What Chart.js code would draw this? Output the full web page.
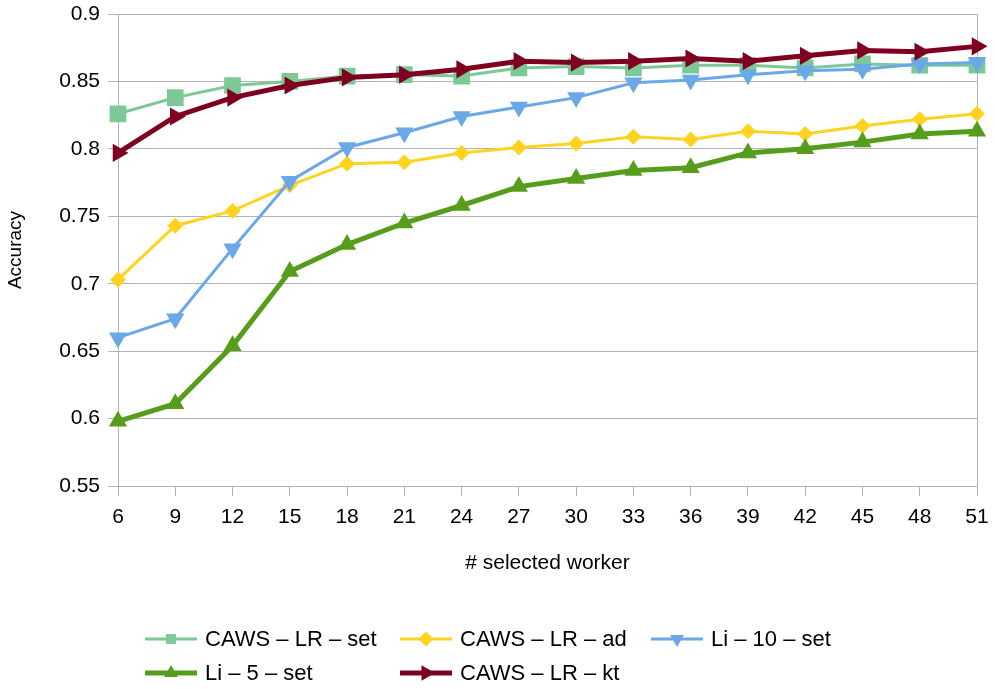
<!DOCTYPE html>
<html lang="en">
<head>
<meta charset="UTF-8">
<title>Accuracy vs selected worker</title>
<style>
  body { margin: 0; background: #fff; }
  canvas { display: block; }
</style>
</head>
<body>
<canvas id="myChart" width="995" height="689"></canvas>
<script src="https://cdn.jsdelivr.net/npm/chart.js@4"></script>
<script>
// data
const workers = [6, 9, 12, 15, 18, 21, 24, 27, 30, 33, 36, 39, 42, 45, 48, 51];
const yTicks = [0.55, 0.6, 0.65, 0.7, 0.75, 0.8, 0.85, 0.9];

const cawsLrSet = [0.826, 0.838, 0.847, 0.850, 0.854, 0.855, 0.854, 0.860, 0.861, 0.860, 0.862, 0.862, 0.860, 0.863, 0.862, 0.862];
const cawsLrAd  = [0.703, 0.743, 0.754, 0.773, 0.789, 0.790, 0.797, 0.801, 0.804, 0.809, 0.807, 0.813, 0.811, 0.817, 0.822, 0.826];
const li10Set   = [0.660, 0.674, 0.726, 0.776, 0.801, 0.812, 0.824, 0.831, 0.838, 0.849, 0.851, 0.855, 0.858, 0.859, 0.863, 0.864];
const li5Set    = [0.598, 0.611, 0.654, 0.709, 0.729, 0.745, 0.758, 0.772, 0.778, 0.784, 0.786, 0.797, 0.800, 0.805, 0.811, 0.813];
const cawsLrKt  = [0.797, 0.824, 0.838, 0.847, 0.853, 0.855, 0.859, 0.865, 0.864, 0.865, 0.867, 0.865, 0.869, 0.873, 0.872, 0.876];

const FONT = 'Liberation Sans, Arial, sans-serif';
const GRID = '#b3b3b3';

function series(label, data, color, width, style, radius, rotation, legendRadius, order) {
    return {
        label: label,
        data: data,
        borderColor: color,
        backgroundColor: color,
        borderWidth: width,
        pointStyle: style,
        pointRadius: radius,
        pointHoverRadius: radius,
        pointRotation: rotation,
        pointBorderWidth: 0,
        tension: 0,
        fill: false,
        order: order,
        legendRadius: legendRadius
    };
}

// legend laid out in a grid like the original (3 columns, 2 rows)
const gridLegend = {
    id: 'gridLegend',
    afterDraw(chart) {
        const ctx = chart.ctx;
        const cols = [145, 400, 651];
        const rows = [639, 673];
        ctx.save();
        chart.data.datasets.forEach((ds, i) => {
            const x = cols[i % 3];
            const y = rows[Math.floor(i / 3)];
            ctx.strokeStyle = ds.borderColor;
            ctx.lineWidth = ds.borderWidth;
            ctx.beginPath();
            ctx.moveTo(x, y);
            ctx.lineTo(x + 52, y);
            ctx.stroke();
            ctx.fillStyle = ds.backgroundColor;
            Chart.helpers.drawPoint(ctx, {
                pointStyle: ds.pointStyle,
                radius: ds.legendRadius,
                rotation: ds.pointRotation,
                borderWidth: 0
            }, x + 26, y);
            ctx.fillStyle = '#000';
            ctx.font = '22px ' + FONT;
            ctx.textBaseline = 'middle';
            ctx.textAlign = 'left';
            ctx.fillText(ds.label, x + 60, y + 1);
        });
        ctx.restore();
    }
};

const ctx = document.getElementById('myChart').getContext('2d');
const myChart = new Chart(ctx, {
    type: 'line',
    data: {
        labels: workers,
        datasets: [
            series('CAWS \u2013 LR \u2013 set', cawsLrSet, '#7dc897', 3, 'rect', 11.8, 0, 7, 5),
            series('CAWS \u2013 LR \u2013 ad', cawsLrAd, '#ffd320', 3, 'rectRot', 8, 0, 7.5, 4),
            series('Li \u2013 10 \u2013 set', li10Set, '#6aa8e8', 3, 'triangle', 10.5, 180, 8, 3),
            series('Li \u2013 5 \u2013 set', li5Set, '#579d1c', 5, 'triangle', 10.5, 0, 8, 2),
            series('CAWS \u2013 LR \u2013 kt', cawsLrKt, '#7e0021', 5, 'triangle', 10.5, 90, 9, 1)
        ]
    },
    options: {
        responsive: false,
        animation: false,
        devicePixelRatio: 1,
        layout: { padding: { top: 14, right: 18, bottom: 109, left: 0 } },
        plugins: {
            legend: { display: false },
            tooltip: { enabled: false }
        },
        scales: {
            x: {
                type: 'category',
                offset: false,
                grid: {
                    color: c => (c.index === 0 || c.index === workers.length - 1) ? GRID : 'rgba(0,0,0,0)',
                    tickColor: GRID,
                    tickLength: 10,
                    lineWidth: 1
                },
                border: { display: true, color: GRID },
                ticks: {
                    color: '#000',
                    font: { family: FONT, size: 21 },
                    padding: 9,
                    maxRotation: 0,
                    autoSkip: false
                },
                title: {
                    display: true,
                    text: '# selected worker',
                    color: '#000',
                    font: { family: FONT, size: 21 }
                },
                afterFit: s => {
                    s.height = 94;
                    s.paddingLeft = 0;
                    s.paddingRight = 0;
                }
            },
            y: {
                min: 0.55,
                max: 0.9,
                afterBuildTicks: s => { s.ticks = yTicks.map(v => ({ value: v })); },
                grid: { color: GRID, tickColor: GRID, tickLength: 10 },
                border: { display: true, color: GRID },
                ticks: {
                    color: '#000',
                    font: { family: FONT, size: 21 },
                    padding: 8,
                    callback: v => String(+v.toFixed(2))
                },
                title: {
                    display: true,
                    text: 'Accuracy',
                    color: '#000',
                    font: { family: FONT, size: 19 }
                },
                afterFit: s => {
                    s.width = 118;
                    s.paddingTop = 0;
                    s.paddingBottom = 0;
                }
            }
        }
    },
    plugins: [gridLegend]
});
</script>
</body>
</html>
